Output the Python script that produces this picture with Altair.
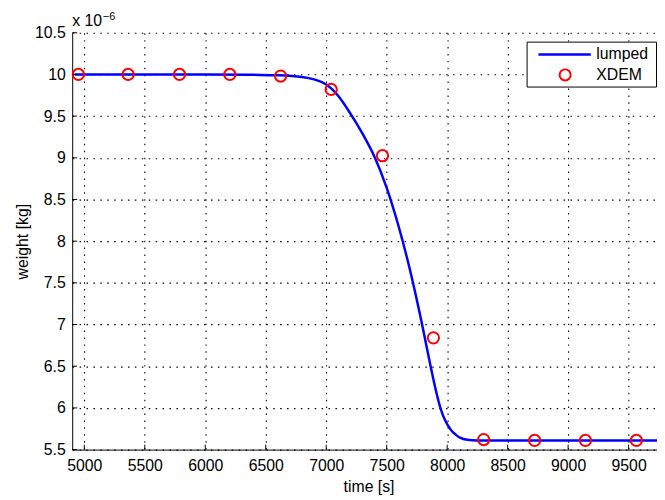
import altair as alt
import pandas as pd

# Lumped model curve (weight in units of 1e-6 kg)
time_lumped = [4920, 5500, 6000, 6400, 6600, 6800, 6900, 7000, 7050, 7100, 7200, 7300,
               7400, 7500, 7600, 7700, 7800, 7860, 7900, 7934, 7965, 8002, 8040, 8070,
               8110, 8165, 8250, 9000, 9800]
weight_lumped = [10.0, 10.0, 10.0, 9.995, 9.99, 9.97, 9.94, 9.88, 9.82, 9.74, 9.53, 9.29,
                 9.01, 8.64, 8.17, 7.61, 6.95, 6.52, 6.25, 6.05, 5.91, 5.80, 5.72, 5.68,
                 5.64, 5.618, 5.61, 5.61, 5.61]

# XDEM points
time_xdem = [4951, 5362, 5787, 6203, 6623, 7041, 7465, 7886, 8302, 8723, 9143, 9564]
weight_xdem = [10.0, 10.0, 10.0, 10.0, 9.98, 9.82, 9.025, 6.84, 5.62, 5.61, 5.61, 5.61]

x_ticks = [5000, 5500, 6000, 6500, 7000, 7500, 8000, 8500, 9000, 9500]
y_ticks = [5.5, 6, 6.5, 7, 7.5, 8, 8.5, 9, 9.5, 10, 10.5]

W, H = 600, 422
FONT = "Liberation Sans"

lumped = pd.DataFrame({"t": time_lumped, "w": weight_lumped})
xdem = pd.DataFrame({"t": time_xdem, "w": weight_xdem})
xt = pd.DataFrame({"t": x_ticks})
yt = pd.DataFrame({"w": y_ticks})
one = pd.DataFrame({"a": [0]})

xscale = alt.Scale(domain=[4900, 9800], nice=False, zero=False)
yscale = alt.Scale(domain=[5.5, 10.5], nice=False, zero=False)

xaxis = alt.Axis(values=x_ticks, title="time [s]", ticks=False, labelPadding=8,
                 titlePadding=5, grid=True, gridDash=[1.5, 5.5], gridColor="black",
                 gridWidth=1.1, gridOpacity=1, domainColor="black", format="d",
                 labelFlush=False)
yaxis = alt.Axis(values=y_ticks, title="weight [kg]", ticks=False, labelPadding=7,
                 titlePadding=4, grid=True, gridDash=[1.5, 5.5], gridColor="black",
                 gridWidth=1.1, gridOpacity=1, domainColor="black", format=".1~f",
                 labelFlush=False)

line = alt.Chart(lumped).mark_line(color="#0000ff", strokeWidth=2.5, interpolate="monotone").encode(
    x=alt.X("t:Q", scale=xscale, axis=xaxis),
    y=alt.Y("w:Q", scale=yscale, axis=yaxis),
)

pts = alt.Chart(xdem).mark_point(shape="circle", filled=False, color="#ff0000",
                                 strokeWidth=2, size=130, opacity=1).encode(
    x=alt.X("t:Q", scale=xscale),
    y=alt.Y("w:Q", scale=yscale),
)

xtick_marks = alt.Chart(xt).mark_rule(color="black", strokeWidth=1).encode(
    x=alt.X("t:Q", scale=xscale),
    y=alt.value(H), y2=alt.value(H - 5),
)
ytick_marks = alt.Chart(yt).mark_rule(color="black", strokeWidth=1).encode(
    y=alt.Y("w:Q", scale=yscale),
    x=alt.value(0), x2=alt.value(5),
)

exp_base = alt.Chart(one).mark_text(text="x 10", fontSize=16, font=FONT, align="left",
                                    baseline="alphabetic", color="black").encode(
    x=alt.value(0), y=alt.value(-7))
exp_sup = alt.Chart(one).mark_text(text="\u22126", fontSize=11, font=FONT, align="left",
                                   baseline="alphabetic", color="black").encode(
    x=alt.value(31), y=alt.value(-13))

leg_box = alt.Chart(one).mark_rect(fill="white", stroke="black", strokeWidth=1).encode(
    x=alt.value(460.5), x2=alt.value(591.5), y=alt.value(9.5), y2=alt.value(55))
leg_line = alt.Chart(one).mark_rule(color="#0000ff", strokeWidth=2.5).encode(
    x=alt.value(472), x2=alt.value(525), y=alt.value(22))
leg_pt = alt.Chart(one).mark_point(shape="circle", filled=False, color="#ff0000",
                                   strokeWidth=2, size=125, opacity=1).encode(
    x=alt.value(499), y=alt.value(42.7))
leg_t1 = alt.Chart(one).mark_text(text="lumped", fontSize=16, font=FONT, align="left",
                                  baseline="middle", color="black").encode(
    x=alt.value(530.5), y=alt.value(22))
leg_t2 = alt.Chart(one).mark_text(text="XDEM", fontSize=16, font=FONT, align="left",
                                  baseline="middle", color="black").encode(
    x=alt.value(530.5), y=alt.value(42.7))

chart = alt.layer(
    line, pts, xtick_marks, ytick_marks, exp_base, exp_sup,
    leg_box, leg_line, leg_pt, leg_t1, leg_t2
).properties(
    width=W, height=H,
    autosize=alt.AutoSizeParams(type="none"),
    padding={"left": 65, "top": 22, "right": -8, "bottom": 48},
).configure_view(stroke=None).configure_axis(
    labelFont=FONT, titleFont=FONT, labelFontSize=16, titleFontSize=16,
    labelColor="black", titleColor="black", titleFontWeight="normal",
)

chart.save("out.html", embed_options={"renderer": "svg", "actions": False})
